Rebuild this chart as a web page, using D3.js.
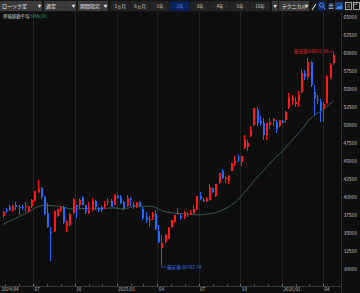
<!DOCTYPE html>
<html>
<head>
<meta charset="utf-8">
<script src="https://cdn.jsdelivr.net/npm/d3@7"></script>
<style>
  html, body { margin: 0; padding: 0; background: #0e0e0e; overflow: hidden; }
  svg { display: block; font-family: "Noto Sans CJK JP", "Noto Sans", sans-serif; }
</style>
</head>
<body>
<div id="chart"></div>
<script>
// ---- data (weekly candles: week start, open, high, low, close) ----
const candles2024 = [
  ["2024-04-22", 37400, 38100, 37100, 37934],
  ["2024-04-29", 38300, 38500, 37800, 38236],
  ["2024-05-06", 38600, 38900, 38100, 38229],
  ["2024-05-13", 38200, 39000, 37900, 38787],
  ["2024-05-20", 38900, 39400, 38300, 38646],
  ["2024-05-27", 38700, 38900, 37600, 38487],
  ["2024-06-03", 38700, 39000, 38200, 38683],
  ["2024-06-10", 38800, 39300, 38000, 38814],
  ["2024-06-17", 38100, 38800, 38000, 38596],
  ["2024-06-24", 38800, 39700, 38500, 39583],
  ["2024-07-01", 39600, 40900, 39300, 40912],
  ["2024-07-08", 40800, 42426, 40600, 41190],
  ["2024-07-15", 41300, 41400, 39800, 40063],
  ["2024-07-22", 40000, 40200, 37600, 37667],
  ["2024-07-29", 37800, 39200, 35800, 35909],
  ["2024-08-05", 35250, 35900, 31156, 35025],
  ["2024-08-12", 35300, 38100, 35200, 38062],
  ["2024-08-19", 37400, 38400, 37300, 38364],
  ["2024-08-26", 38200, 38700, 37900, 38647],
  ["2024-09-02", 38700, 38800, 36300, 36391],
  ["2024-09-09", 36000, 36800, 35250, 36581],
  ["2024-09-16", 36200, 37800, 36000, 37723],
  ["2024-09-23", 37800, 39900, 37700, 39829],
  ["2024-09-30", 39000, 39000, 37100, 38635],
  ["2024-10-07", 39000, 39900, 38400, 39605],
  ["2024-10-14", 39900, 40200, 38900, 38981],
  ["2024-10-21", 39000, 39000, 37700, 37913],
  ["2024-10-28", 37800, 39300, 37700, 38053],
  ["2024-11-04", 38300, 39900, 38100, 39500],
  ["2024-11-11", 39500, 39600, 38300, 38642],
  ["2024-11-18", 38500, 38600, 37900, 38283],
  ["2024-11-25", 38600, 38800, 37900, 38208],
  ["2024-12-02", 38600, 39500, 38400, 39091],
  ["2024-12-09", 39300, 39900, 39000, 39470],
  ["2024-12-16", 39500, 39800, 38700, 38701],
  ["2024-12-23", 39000, 40400, 38900, 40281],
  ["2024-12-30", 40200, 40300, 39800, 39894]
];
const candles2025 = [
  ["2025-01-06", 40000, 40300, 39100, 39190],
  ["2025-01-13", 39400, 39500, 38200, 38451],
  ["2025-01-20", 38800, 40300, 38700, 39931],
  ["2025-01-27", 39800, 40000, 38800, 39572],
  ["2025-02-03", 39000, 39300, 38400, 38787],
  ["2025-02-10", 38800, 39400, 38500, 39149],
  ["2025-02-17", 39300, 39500, 38700, 38776],
  ["2025-02-24", 38400, 38700, 36900, 37155],
  ["2025-03-03", 37200, 38000, 36500, 36887],
  ["2025-03-10", 36800, 37400, 35900, 37053],
  ["2025-03-17", 37300, 37900, 36800, 37677],
  ["2025-03-24", 37700, 38200, 35500, 35617],
  ["2025-03-31", 35300, 36100, 33600, 33780],
  ["2025-04-07", 33000, 34800, 30792.74, 33585],
  ["2025-04-14", 33800, 34900, 33700, 34730],
  ["2025-04-21", 34300, 35900, 34200, 35705],
  ["2025-04-28", 35900, 36900, 35800, 36830],
  ["2025-05-05", 36600, 37600, 36500, 37503],
  ["2025-05-12", 37700, 38500, 37500, 37753],
  ["2025-05-19", 37400, 37700, 36900, 37160],
  ["2025-05-26", 37200, 38100, 37000, 37965],
  ["2025-06-02", 37600, 38000, 37300, 37741],
  ["2025-06-09", 37700, 38300, 37500, 37834],
  ["2025-06-16", 37800, 38900, 37700, 38403],
  ["2025-06-23", 38400, 40200, 38300, 40150],
  ["2025-06-30", 40200, 40800, 39600, 39811],
  ["2025-07-07", 39600, 39900, 39300, 39570],
  ["2025-07-14", 39500, 40000, 39300, 39819],
  ["2025-07-21", 39600, 41800, 39500, 41456],
  ["2025-07-28", 41300, 41300, 40600, 40799],
  ["2025-08-04", 40200, 41900, 40000, 41820],
  ["2025-08-11", 42000, 43400, 41900, 43378],
  ["2025-08-18", 43600, 43900, 42500, 42633],
  ["2025-08-25", 42600, 42900, 42000, 42718],
  ["2025-09-01", 42300, 43100, 41900, 43018],
  ["2025-09-08", 43700, 44800, 43600, 44768],
  ["2025-09-15", 44800, 45800, 44400, 45045],
  ["2025-09-22", 45500, 45900, 44900, 45355],
  ["2025-09-29", 44900, 45800, 44300, 45769],
  ["2025-10-06", 46800, 48600, 46700, 48088],
  ["2025-10-13", 47000, 47900, 46500, 47582],
  ["2025-10-20", 48500, 49900, 48400, 49299],
  ["2025-10-27", 50000, 52400, 49900, 52411],
  ["2025-11-03", 52100, 52600, 49900, 50276],
  ["2025-11-10", 50600, 51300, 49900, 50376],
  ["2025-11-17", 50300, 51000, 48000, 48625],
  ["2025-11-24", 48600, 50300, 48000, 50253],
  ["2025-12-01", 50000, 51000, 49500, 50491],
  ["2025-12-08", 50600, 51000, 49900, 50836],
  ["2025-12-15", 50500, 50800, 48900, 49507],
  ["2025-12-22", 49900, 50800, 49700, 50750],
  ["2025-12-29", 50600, 50700, 50300, 50339]
];
const candles2026 = [
  ["2026-01-05", 50700, 52000, 50300, 51900],
  ["2026-01-12", 52500, 54500, 52300, 53800],
  ["2026-01-19", 53400, 54200, 52800, 53800],
  ["2026-01-26", 53000, 53900, 52500, 53300],
  ["2026-02-02", 53400, 54800, 52600, 54200],
  ["2026-02-09", 54600, 57800, 54500, 57300],
  ["2026-02-16", 57300, 57700, 56300, 56700],
  ["2026-02-23", 56700, 59300, 56500, 58800],
  ["2026-03-02", 58800, 59000, 55300, 55600],
  ["2026-03-09", 54600, 55600, 51400, 53800],
  ["2026-03-16", 53700, 54200, 52900, 53500],
  ["2026-03-23", 53300, 53700, 50500, 52100],
  ["2026-03-30", 52200, 53200, 50500, 53000],
  ["2026-04-06", 53100, 57000, 52900, 56750],
  ["2026-04-13", 56750, 58600, 56500, 58400],
  ["2026-04-20", 58600, 60013.98, 58400, 59750]
];
// weekly closes before the visible range, needed for SMA(26)
const priorCloses = [31950, 32568, 33585, 33625, 33431, 32307, 32970, 33169, 33464,
  33377, 35577, 35963, 35751, 36158, 36897, 38487, 39098, 39910, 39688,
  38707, 40888, 40369, 38992, 39523, 37068];
const smaPeriod = 26;

const yTicks = [30000, 32500, 35000, 37500, 40000, 42500, 45000, 47500,
  50000, 52500, 55000, 57500, 60000, 62500, 65000];
const xTickMonths = ["2024-04", "2024-07", "2024-10", "2025-01", "2025-04",
  "2025-07", "2025-10", "2026-01", "2026-04"];
const xTickLabels = ["2024/04", "07", "10", "2025/01", "04", "07", "10", "2026/01", "04"];

const dropdowns = ["ローソク足", "週足", "期間指定"];
const periods = ["3ヵ月", "6ヵ月", "1年", "2年", "3年", "4年", "5年", "10年"];
const activePeriod = "2年";

// ---- setup ----
const W = 360, H = 293;
const plotRight = 341, plotTop = 12, axisY = 286;
const parse = d3.timeParse("%Y-%m-%d");
const candles = candles2024.concat(candles2025, candles2026).map(r => ({
  date: parse(r[0]), open: r[1], high: r[2], low: r[3], close: r[4]
}));

const allCloses = priorCloses.concat(candles.map(d => d.close));
candles.forEach((d, i) => {
  d.sma = d3.mean(allCloses.slice(i + priorCloses.length + 1 - smaPeriod, i + priorCloses.length + 1));
});

const x = d3.scaleTime()
  .domain([parse("2024-04-19"), parse("2026-05-11")])
  .range([0, plotRight]);
const cx = d => x(d3.timeDay.offset(d.date, 3));
const y = d3.scaleLinear().domain([30000, 65000]).range([269.3, 17.3]);

const svg = d3.select("#chart").append("svg")
  .attr("width", W).attr("height", H);

svg.append("rect").attr("width", W).attr("height", H).attr("fill", "#0e0e0e");

// ---- vertical grid & x axis ----
const monthStarts = d3.timeMonth.range(parse("2024-05-01"), parse("2026-05-01"));
const tickMonth = d3.timeFormat("%Y-%m");

svg.append("g")
  .selectAll("line")
  .data(xTickMonths.slice(1))
  .join("line")
  .attr("x1", m => Math.round(x(parse(m + "-01"))) + 0.5)
  .attr("x2", m => Math.round(x(parse(m + "-01"))) + 0.5)
  .attr("y1", plotTop).attr("y2", axisY)
  .attr("stroke", "#222");

svg.append("line")
  .attr("x1", 0).attr("x2", plotRight).attr("y1", axisY + 0.5).attr("y2", axisY + 0.5)
  .attr("stroke", "#3a3a3a");
svg.append("line")
  .attr("x1", plotRight + 0.5).attr("x2", plotRight + 0.5).attr("y1", plotTop).attr("y2", H)
  .attr("stroke", "#2e2e2e");

svg.append("g")
  .selectAll("line")
  .data(monthStarts)
  .join("line")
  .attr("x1", d => Math.round(x(d)) + 0.5)
  .attr("x2", d => Math.round(x(d)) + 0.5)
  .attr("y1", axisY - 2).attr("y2", axisY)
  .attr("stroke", d => xTickMonths.includes(tickMonth(d)) ? "#777" : "#555");

svg.append("g")
  .selectAll("text")
  .data(xTickMonths)
  .join("text")
  .attr("x", (m, i) => i === 0 ? 1.5 : x(parse(m + "-01")) + 1.5)
  .attr("y", 291.3)
  .attr("font-size", 4.6)
  .attr("fill", "#bbb")
  .text((m, i) => xTickLabels[i]);

// ---- y axis labels ----
svg.append("g")
  .selectAll("text")
  .data(yTicks)
  .join("text")
  .attr("x", 343.5)
  .attr("y", d => y(d))
  .attr("dy", "0.35em")
  .attr("font-size", 4.8)
  .attr("fill", "#c8c8c8")
  .text(d => d);

// ---- SMA line ----
svg.append("path")
  .datum(candles)
  .attr("fill", "none")
  .attr("stroke", "#38595a")
  .attr("stroke-width", 1)
  .attr("d", d3.line().x(cx).y(d => y(d.sma)));

// ---- candles ----
const up = "#ff1a1a", down = "#1f6bff";
const cg = svg.append("g").attr("shape-rendering", "crispEdges");
cg.selectAll("line")
  .data(candles)
  .join("line")
  .attr("x1", d => Math.round(cx(d)) + 0.5)
  .attr("x2", d => Math.round(cx(d)) + 0.5)
  .attr("y1", d => y(d.high)).attr("y2", d => y(d.low))
  .attr("stroke", d => d.close >= d.open ? up : down);
cg.selectAll("rect")
  .data(candles)
  .join("rect")
  .attr("x", d => Math.round(cx(d)) - 0.5)
  .attr("width", 2)
  .attr("y", d => y(Math.max(d.open, d.close)))
  .attr("height", d => Math.max(1, Math.abs(y(d.open) - y(d.close))))
  .attr("fill", d => d.close >= d.open ? up : down);

// ---- high / low annotations ----
const hi = d3.greatest(candles, d => d.high);
const lo = d3.least(candles, d => d.low);
const hx = Math.round(cx(hi)) + 0.5, lx = Math.round(cx(lo)) + 0.5;
svg.append("path")
  .attr("d", `M${hx},${y(hi.high)}V${y(hi.high) - 1.5}H${hx - 5}`)
  .attr("fill", "none").attr("stroke", "#d42020").attr("stroke-width", 0.7);
svg.append("text")
  .attr("x", hx - 5.5).attr("y", y(hi.high) - 1.5).attr("dy", "0.35em")
  .attr("text-anchor", "end").attr("font-size", 4.6).attr("fill", "#e02828")
  .text("最高値:" + d3.format(".2f")(hi.high));
svg.append("path")
  .attr("d", `M${lx},${y(lo.low)}V${y(lo.low) + 3.5}H${lx + 5}`)
  .attr("fill", "none").attr("stroke", "#2a6ee8").attr("stroke-width", 0.7);
svg.append("text")
  .attr("x", lx + 5.5).attr("y", y(lo.low) + 3.5).attr("dy", "0.35em")
  .attr("font-size", 4.6).attr("fill", "#2f78f0")
  .text("最安値:" + d3.format(".2f")(lo.low));

// ---- legend row ----
const legend = svg.append("text").attr("x", 3).attr("y", 17.8).attr("font-size", 4.4);
legend.append("tspan").attr("fill", "#cfcfcf").text("単純移動平均 ");
legend.append("tspan").attr("fill", "#2e9e9a").text("SMA(26)");

// ---- toolbar ----
const bar = svg.append("g");
bar.append("rect").attr("width", W).attr("height", 12).attr("fill", "#161616");

const ddWidths = [42, 32, 30];
let ddx = 0;
dropdowns.forEach((label, i) => {
  const g = bar.append("g").attr("transform", `translate(${ddx},1)`);
  g.append("rect").attr("width", ddWidths[i]).attr("height", 10).attr("fill", "#3a3a3a");
  g.append("text").attr("x", 2).attr("y", 7).attr("font-size", 5).attr("fill", "#eee").text(label);
  g.append("text").attr("x", ddWidths[i] - 2.5).attr("y", 6.8).attr("text-anchor", "middle")
    .attr("font-size", 4).attr("fill", "#ddd").text("▼");
  ddx += ddWidths[i] + 2;
});

const pb = bar.append("g").attr("transform", "translate(110,1)");
pb.selectAll("rect")
  .data(periods)
  .join("rect")
  .attr("x", (d, i) => i * 20).attr("width", 20).attr("height", 10)
  .attr("fill", d => d === activePeriod ? "#0a2460" : "#242424")
  .attr("stroke", "#161616").attr("stroke-width", 0.6);
pb.selectAll("text")
  .data(periods)
  .join("text")
  .attr("x", (d, i) => i * 20 + 10).attr("y", 6.9)
  .attr("text-anchor", "middle").attr("font-size", 4.6)
  .attr("fill", d => d === activePeriod ? "#4f8fff" : "#cfcfcf")
  .text(d => d);
bar.append("rect").attr("x", 272).attr("y", 1).attr("width", 6).attr("height", 10).attr("fill", "#3a3a3a");
bar.append("text").attr("x", 275).attr("y", 7.8).attr("text-anchor", "middle")
  .attr("font-size", 3.6).attr("fill", "#ddd").text("▼");

const tech = bar.append("g").attr("transform", "translate(279,1)");
tech.append("rect").attr("width", 30).attr("height", 10).attr("fill", "#3a3a3a");
tech.append("text").attr("x", 3).attr("y", 7).attr("font-size", 4.8).attr("fill", "#eee").text("テクニカル");
tech.append("text").attr("x", 27.5).attr("y", 6.8).attr("text-anchor", "middle")
  .attr("font-size", 4).attr("fill", "#ddd").text("▼");

// icons
const ic = bar.append("g").attr("transform", "translate(0,1)");
ic.append("path").attr("d", "M312,9L316,3").attr("stroke", "#ccc").attr("stroke-width", 1.2);
ic.append("rect").attr("x", 318).attr("y", 0.5).attr("width", 8).attr("height", 9).attr("fill", "#0d2a66");
ic.append("circle").attr("cx", 321.5).attr("cy", 4).attr("r", 2).attr("fill", "none").attr("stroke", "#6fa6ff").attr("stroke-width", 0.8);
ic.append("path").attr("d", "M323,5.5L325,8").attr("stroke", "#6fa6ff").attr("stroke-width", 0.9);
ic.append("text").attr("x", 331).attr("y", 7).attr("text-anchor", "middle").attr("font-size", 5.5).attr("fill", "#ddd").text("出");
ic.append("rect").attr("x", 335).attr("y", 1).attr("width", 8).attr("height", 8).attr("fill", "#1d3f7a");
ic.append("path").attr("d", "M336,8L338,5L340,6L342,3V8Z").attr("fill", "#3d8bff");
ic.append("rect").attr("x", 345.5).attr("y", 1.5).attr("width", 6).attr("height", 7).attr("fill", "none").attr("stroke", "#ccc").attr("stroke-width", 0.8);
ic.append("path").attr("d", "M347,4H350M347,6H350").attr("stroke", "#ccc").attr("stroke-width", 0.6);
ic.append("rect").attr("x", 353.5).attr("y", 1.5).attr("width", 6).attr("height", 7).attr("fill", "none").attr("stroke", "#ccc").attr("stroke-width", 0.8);
ic.append("path").attr("d", "M353.5,3.5H356.5V1.5").attr("fill", "none").attr("stroke", "#ccc").attr("stroke-width", 0.6);
</script>
</body>
</html>
